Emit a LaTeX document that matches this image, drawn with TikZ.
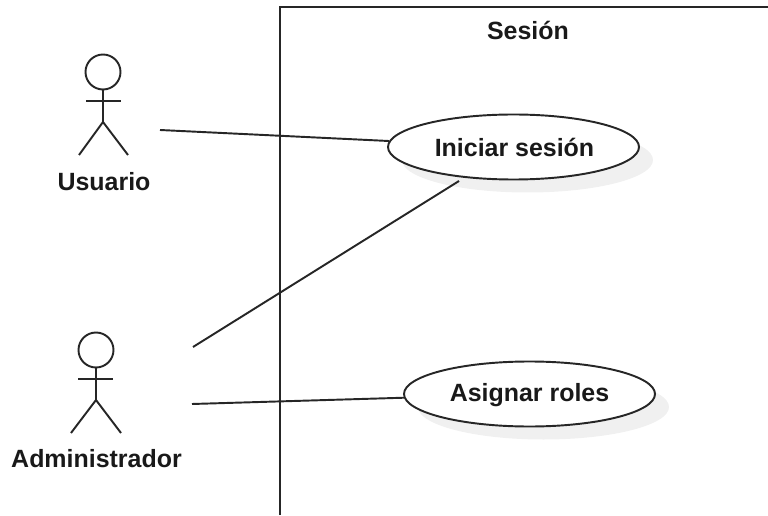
\documentclass[tikz,border=0pt]{standalone}
\usepackage{fontspec}
\setmainfont{Liberation Sans}
\usetikzlibrary{shapes.geometric, shadows}

\tikzstyle{label}=[inner sep=0, font=\fontsize{14.2}{17}\selectfont\bfseries, text=black!90]
\tikzstyle{line}=[line width=1.1pt, black!85]
\tikzstyle{head}=[circle, draw, line, minimum size=0.7cm, inner sep=0]
\tikzstyle{usecase}=[ellipse, draw, line, fill=white, minimum width=5.02cm, minimum height=1.3cm, inner sep=0,
                     drop shadow={shadow xshift=0.28cm, shadow yshift=-0.26cm, fill=black!6, opacity=1}]

\begin{document}
\begin{tikzpicture}
\useasboundingbox (0, 0) rectangle (15.36, 10.3);
%%%%%%%%%%%%%%%%%%%%%%%%%%%%%%
% nodes

% sesion
\draw[line] (5.6, 0) -- (5.6, 10.16) -- (15.36, 10.16);
\node (sesion) at (10.56, 9.7) [label] {Sesión};

\node (iniciar) at (10.27, 7.36) [usecase] {};
\node (iniciar_text) at (10.29, 7.36) [label] {Iniciar sesión};

\node (asignar) at (10.59, 2.42) [usecase] {};
\node (asignar_text) at (10.59, 2.39) [label] {Asignar roles};

% usuario
\node (head_u) at (2.06, 8.86) [head] {};
\coordinate (hip_u) at (2.06, 7.86);
\coordinate (arm_left_u) at (1.72, 8.28);
\coordinate (arm_right_u) at (2.42, 8.28);
\coordinate (foot_left_u) at (1.58, 7.2);
\coordinate (foot_right_u) at (2.56, 7.2);
\coordinate (end_u) at (3.2, 7.7);
\node (usuario) at (2.08, 6.66) [label] {Usuario};

% administrador
\node (head_a) at (1.92, 3.3) [head] {};
\coordinate (hip_a) at (1.92, 2.3);
\coordinate (arm_left_a) at (1.56, 2.72);
\coordinate (arm_right_a) at (2.26, 2.72);
\coordinate (foot_left_a) at (1.42, 1.64);
\coordinate (foot_right_a) at (2.42, 1.64);
\coordinate (end_a) at (3.86, 3.36);
\coordinate (end_b) at (3.84, 2.22);
\node (administrador) at (1.93, 1.12) [label] {Administrador};

%%%%%%%%%%%%%%%%%%%%%%%%%%%%%%
% links

% usuario
\draw [line] (head_u) -- (hip_u);
\draw [line] (arm_left_u) -- (arm_right_u);
\draw [line] (foot_left_u) -- (hip_u) -- (foot_right_u);

% administrador
\draw [line] (head_a) -- (hip_a);
\draw [line] (arm_left_a) -- (arm_right_a);
\draw [line] (foot_left_a) -- (hip_a) -- (foot_right_a);

% use cases
\draw [line] (end_u) -- (iniciar);
\draw [line, shorten >=0.12cm] (end_a) -- (iniciar);
\draw [line] (end_b) -- (asignar);

\end{tikzpicture}
\end{document}
